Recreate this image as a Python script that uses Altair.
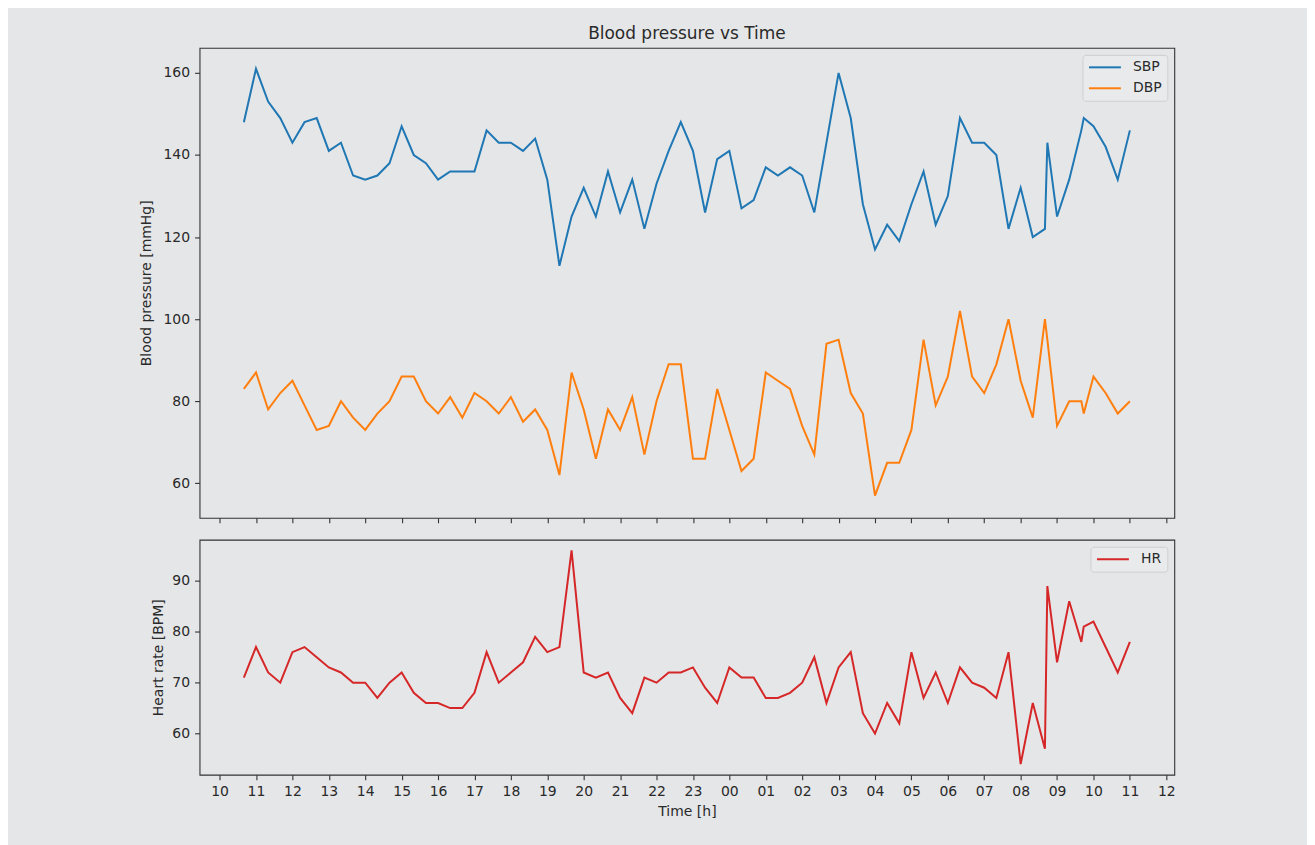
import altair as alt
import pandas as pd

# ---- data ----
times = [
    "10:40", "11:00", "11:20", "11:40", "12:00", "12:20", "12:40", "13:00", "13:20", "13:40",
    "14:00", "14:20", "14:40", "15:00", "15:20", "15:40", "16:00", "16:20", "16:40", "17:00",
    "17:20", "17:40", "18:00", "18:20", "18:40", "19:00", "19:20", "19:40", "20:00", "20:20",
    "20:40", "21:00", "21:20", "21:40", "22:00", "22:20", "22:40", "23:00", "23:20", "23:40",
    "00:00", "00:20", "00:40", "01:00", "01:20", "01:40", "02:00", "02:20", "02:40", "03:00",
    "03:20", "03:40", "04:00", "04:20", "04:40", "05:00", "05:20", "05:40", "06:00", "06:20",
    "06:40", "07:00", "07:20", "07:40", "08:00", "08:20", "08:40", "08:44", "09:00", "09:20",
    "09:40", "09:44", "10:00", "10:20", "10:40", "11:00",
]
sbp = [
    148, 161, 153, 149, 143, 148, 149, 141, 143, 135,
    134, 135, 138, 147, 140, 138, 134, 136, 136, 136,
    146, 143, 143, 141, 144, 134, 113, 125, 132, 125,
    136, 126, 134, 122, 133, 141, 148, 141, 126, 139,
    141, 127, 129, 137, 135, 137, 135, 126, 143, 160,
    149, 128, 117, 123, 119, 128, 136, 123, 130, 149,
    143, 143, 140, 122, 132, 120, 122, 143, 125, 134,
    146, 149, 147, 142, 134, 146,
]
dbp = [
    83, 87, 78, 82, 85, 79, 73, 74, 80, 76,
    73, 77, 80, 86, 86, 80, 77, 81, 76, 82,
    80, 77, 81, 75, 78, 73, 62, 87, 78, 66,
    78, 73, 81, 67, 80, 89, 89, 66, 66, 83,
    73, 63, 66, 87, 85, 83, 74, 67, 94, 95,
    82, 77, 57, 65, 65, 73, 95, 79, 86, 102,
    86, 82, 89, 100, 85, 76, 100, 95, 74, 80,
    80, 77, 86, 82, 77, 80,
]
hr = [
    71, 77, 72, 70, 76, 77, 75, 73, 72, 70,
    70, 67, 70, 72, 68, 66, 66, 65, 65, 68,
    76, 70, 72, 74, 79, 76, 77, 96, 72, 71,
    72, 67, 64, 71, 70, 72, 72, 73, 69, 66,
    73, 71, 71, 67, 67, 68, 70, 75, 66, 73,
    76, 64, 60, 66, 62, 76, 67, 72, 66, 73,
    70, 69, 67, 76, 54, 66, 57, 89, 74, 86,
    78, 81, 82, 77, 72, 78,
]
bp_series = ["SBP", "DBP"]
hr_series = ["HR"]
hour_ticks = list(range(0, 27))          # 10:00 day 1 ... 12:00 day 2
bp_ticks = [60, 80, 100, 120, 140, 160]
hr_ticks = [60, 70, 80, 90]


def to_hours(ts):
    out, day, prev = [], 0, None
    for t in ts:
        h, m = map(int, t.split(":"))
        v = h + m / 60
        if prev is not None and v < prev:
            day += 24
        prev = v
        out.append(v + day - 10)
    return out


hrs = to_hours(times)
n = len(times)
bp_df = pd.DataFrame({
    "t": hrs + hrs,
    "value": sbp + dbp,
    "series": [bp_series[0]] * n + [bp_series[1]] * n,
})
hr_df = pd.DataFrame({"t": hrs, "value": hr, "series": [hr_series[0]] * n})

BG = "#e5e6e8"
TXT = "#2a2a2a"
FONT = "DejaVu Sans"
xdom = [-0.55, 26.22]
label_expr = ("(datum.value + 10) % 24 < 10 ? '0' + (datum.value + 10) % 24 "
              ": '' + (datum.value + 10) % 24")

legend_common = dict(
    title=None, orient="top-right", offset=7, padding=5.5,
    fillColor="#e9eaec", strokeColor="#cfcfcf", cornerRadius=3,
    symbolType="M-1,0H4.33", symbolSize=144, symbolStrokeWidth=2,
    labelOffset=31, labelFontSize=14, labelFont=FONT, labelColor=TXT,
    rowPadding=7,
)

top = alt.Chart(bp_df).mark_line(strokeWidth=2).encode(
    x=alt.X("t:Q", scale=alt.Scale(domain=xdom, nice=False, zero=False),
            axis=alt.Axis(values=hour_ticks, labels=False, title=None)),
    y=alt.Y("value:Q", scale=alt.Scale(domain=[51.6, 166.1], nice=False, zero=False),
            axis=alt.Axis(values=bp_ticks, title="Blood pressure [mmHg]", titlePadding=9)),
    color=alt.Color("series:N", sort=bp_series,
                    scale=alt.Scale(domain=bp_series, range=["#1f77b4", "#ff7f0e"]),
                    legend=alt.Legend(**legend_common)),
).properties(
    width=977, height=471,
    title=alt.TitleParams("Blood pressure vs Time", fontSize=17, fontWeight="normal",
                          font=FONT, color=TXT, offset=5, anchor="middle"),
)

bottom = alt.Chart(hr_df).mark_line(strokeWidth=2).encode(
    x=alt.X("t:Q", scale=alt.Scale(domain=xdom, nice=False, zero=False),
            axis=alt.Axis(values=hour_ticks, labelExpr=label_expr, title="Time [h]")),
    y=alt.Y("value:Q", scale=alt.Scale(domain=[51.9, 98.1], nice=False, zero=False),
            axis=alt.Axis(values=hr_ticks, title="Heart rate [BPM]")),
    color=alt.Color("series:N",
                    scale=alt.Scale(domain=hr_series, range=["#d62728"]),
                    legend=alt.Legend(**legend_common)),
).properties(width=977, height=235.5)

chart = alt.vconcat(top, bottom, spacing=14).resolve_scale(
    color="independent"
).resolve_legend(color="independent").properties(
    background=BG,
    padding={"left": 131, "top": 15, "right": 131, "bottom": 26},
).configure_view(
    stroke="#333333", strokeWidth=1.1, fill=BG,
).configure_axis(
    domain=False, grid=False,
    tickColor="#333333", tickSize=5, tickWidth=1.1,
    labelFont=FONT, labelFontSize=14, labelColor=TXT, labelPadding=5,
    titleFont=FONT, titleFontSize=14, titleFontWeight="normal", titleColor=TXT,
    titlePadding=6,
)

chart.save("out.html", embed_options={"renderer": "svg", "actions": False})
